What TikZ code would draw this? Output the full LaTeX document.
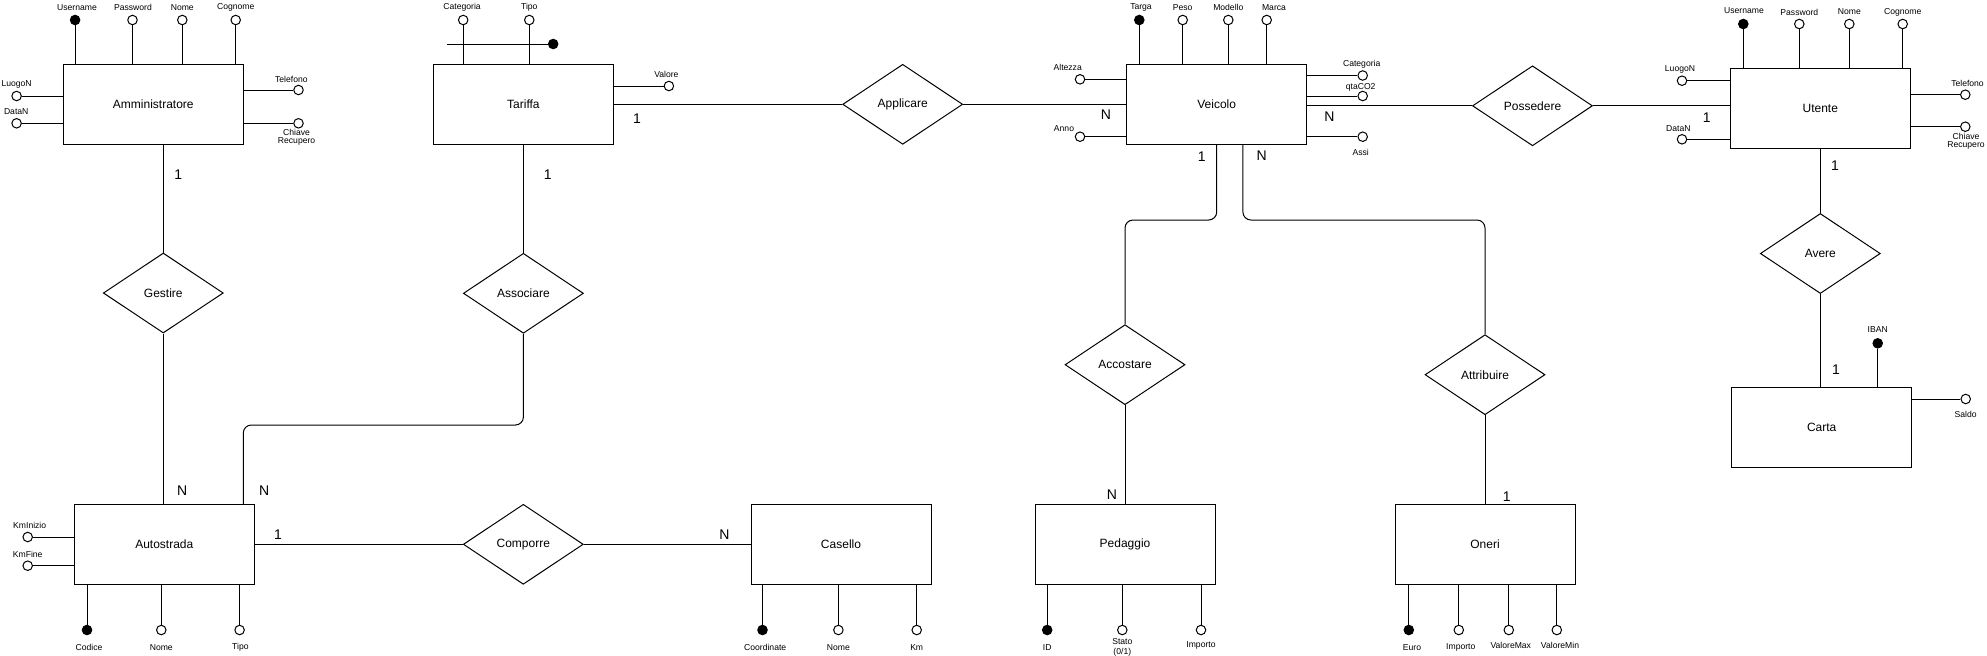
\documentclass[tikz,border=0pt]{standalone}
\usepackage{fontspec}
\setmainfont{Liberation Sans}
\usetikzlibrary{shapes.geometric,calc}
\begin{document}
\begin{tikzpicture}[x=0.5pt,y=-0.5pt,line width=0.5pt,
  ent/.style={draw,rectangle,minimum width=90pt,minimum height=40pt,inner sep=0pt,font=\fontsize{6}{7}\selectfont},
  rel/.style={draw,diamond,minimum width=60pt,minimum height=40pt,inner sep=0pt,font=\fontsize{6}{7}\selectfont},
  attr/.style={draw,circle,fill=white,minimum size=4.75pt,inner sep=0pt},
  keyattr/.style={attr,fill=black},
  lbl/.style={inner sep=0pt,align=center,font=\fontsize{4.3}{3}\selectfont},
  lbltwo/.style={inner sep=0pt,align=center,font=\fontsize{4.3}{5}\selectfont},
  card/.style={inner sep=0pt,font=\fontsize{7}{8}\selectfont},
  rcorner/.style={rounded corners=4pt}]
\useasboundingbox (0,0) rectangle (1987,655);

% ---------- entities ----------
\node[ent] (adm) at (153.3,104.3) {Amministratore};
\node[ent] (tar) at (523.4,104.3) {Tariffa};
\node[ent] (vei) at (1216.7,104.3) {Veicolo};
\node[ent] (ute) at (1820.3,108.3) {Utente};
\node[ent] (car) at (1821.7,427.7) {Carta};
\node[ent] (aut) at (164.3,544.3) {Autostrada};
\node[ent] (cas) at (841,544.3) {Casello};
\node[ent] (ped) at (1125,544.3) {Pedaggio};
\node[ent] (one) at (1485,544.3) {Oneri};

% ---------- relationships ----------
\node[rel] (ges) at (163.3,293) {Gestire};
\node[rel] (ass) at (523.4,293.3) {Associare};
\node[rel] (app) at (902.7,104.3) {Applicare};
\node[rel] (pos) at (1532.5,105.8) {Possedere};
\node[rel] (ave) at (1820.3,253.5) {Avere};
\node[rel] (com) at (523.3,544.3) {Comporre};
\node[rel] (acc) at (1125,364.7) {Accostare};
\node[rel] (att) at (1485,374.7) {Attribuire};

% ---------- connectors ----------
\draw (ges.north |- adm.south) -- (ges.north);
\draw (ges.south) -- (ges.south |- aut.north);
\draw (tar.south) -- (ass.north);
\coordinate (asb) at (243.3,425);
\draw[rcorner] (ass.south) |- (asb) -- (asb |- aut.north);
\draw (tar.east) -- (app.west);
\draw (app.east) -- (vei.west);
\draw (vei.east |- pos.west) -- (pos.west);
\draw (pos.east) -- (pos.east -| ute.west);
\draw (ute.south -| ave.north) -- (ave.north);
\draw (ave.south) -- (ave.south |- car.north);
\draw (aut.east) -- (com.west);
\draw (com.east) -- (cas.west);
\coordinate (vbend) at (0,220);
\draw[rcorner] (vei.south) |- (acc.north |- vbend) -- (acc.north);
\draw (acc.south) -- (acc.south |- ped.north);
\coordinate (vkn) at ($(vei.south)+(26.2,0)$);
\draw[rcorner] (vkn) |- (att.north |- vbend) -- (att.north);
\draw (att.south) -- (att.south |- one.north);

% ---------- cardinalities ----------
\node[card] (k1) at (178.3,174.3) {1};
\node[card] (k2) at (182.3,490.7) {N};
\node[card] (k3) at (547.7,174.3) {1};
\node[card] (k4) at (264.3,490.7) {N};
\node[card] (k5) at (637.1,118.3) {1};
\node[card] (k6) at (1106,114.3) {N};
\node[card] (k7) at (1329.3,116.7) {N};
\node[card] (k8) at (1706.7,117.3) {1};
\node[card] (k9) at (1835,165.7) {1};
\node[card] (k10) at (1836,370) {1};
\node[card] (k11) at (1201.7,156.7) {1};
\node[card] (k12) at (1261.7,155.7) {N};
\node[card] (k13) at (1112,495) {N};
\node[card] (k14) at (1506.8,496.7) {1};
\node[card] (k15) at (278,535) {1};
\node[card] (k16) at (724.5,534.3) {N};

% ---------- Amministratore attributes ----------
\node[keyattr] (u1) at (75.1,20) {};   \draw (u1) -- (u1 |- adm.north); \node[lbl] (lu1) at (77,7.3) {Username};
\node[attr] (u2) at (132.5,20) {};     \draw (u2) -- (u2 |- adm.north); \node[lbl] (lu2) at (133,7.7) {Password};
\node[attr] (u3) at (182.3,20) {};     \draw (u3) -- (u3 |- adm.north); \node[lbl] (lu3) at (182.3,7.7) {Nome};
\node[attr] (u4) at (235.7,20) {};     \draw (u4) -- (u4 |- adm.north); \node[lbl] (lu4) at (235.7,7.7) {Cognome};
\node[attr] (u5) at (16.6,96) {};      \draw (u5) -- (u5 -| adm.west);  \node[lbl] (lu5) at (16.6,84) {LuogoN};
\node[attr] (u6) at (16.6,123.3) {};   \draw (u6) -- (u6 -| adm.west);  \node[lbl] (lu6) at (16.2,111.7) {DataN};
\node[attr] (u7) at (298.5,90) {};     \draw (u7) -- (u7 -| adm.east);  \node[lbl] (lu7) at (291.4,79.3) {Telefono};
\node[attr] (u8) at (298.5,123.3) {};  \draw (u8) -- (u8 -| adm.east);  \node[lbl] (lu8) at (296.6,137.5) {Chiave\\Recupero};

% ---------- Tariffa attributes ----------
\node[attr] (t1) at (463.2,20) {};     \draw (t1) -- (t1 |- tar.north); \node[lbl] (lt1) at (462.1,7.3) {Categoria};
\node[attr] (t2) at (529.3,20) {};     \draw (t2) -- (t2 |- tar.north); \node[lbl] (lt2) at (529.3,7.3) {Tipo};
\coordinate (tk) at (446.8,44);
\node[keyattr] (tkey) at (553.2,44) {}; \draw (tk) -- (tkey);
\node[attr] (t3) at (668.9,86) {};     \draw (t3) -- (t3 -| tar.east);  \node[lbl] (lt3) at (666.4,74) {Valore};

% ---------- Veicolo attributes ----------
\node[keyattr] (v1) at (1139.3,20) {}; \draw (v1) -- (v1 |- vei.north); \node[lbl] (lv1) at (1141,7) {Targa};
\node[attr] (v2) at (1182.7,20) {};    \draw (v2) -- (v2 |- vei.north); \node[lbl] (lv2) at (1182.7,7.7) {Peso};
\node[attr] (v3) at (1228.3,20) {};    \draw (v3) -- (v3 |- vei.north); \node[lbl] (lv3) at (1228.3,7.7) {Modello};
\node[attr] (v4) at (1266.7,20) {};    \draw (v4) -- (v4 |- vei.north); \node[lbl] (lv4) at (1274,7.7) {Marca};
\node[attr] (v5) at (1080,79.3) {};    \draw (v5) -- (v5 -| vei.west);  \node[lbl] (lv5) at (1067.7,67.3) {Altezza};
\node[attr] (v6) at (1080,136.7) {};   \draw (v6) -- (v6 -| vei.west);  \node[lbl] (lv6) at (1064,129) {Anno};
\node[attr] (v7) at (1362.7,75.5) {};  \draw (v7) -- (v7 -| vei.east);  \node[lbl] (lv7) at (1361.7,64) {Categoria};
\node[attr] (v8) at (1362.7,96) {};    \draw (v8) -- (v8 -| vei.east);  \node[lbl] (lv8) at (1360.7,87.7) {qtaCO2};
\node[attr] (v9) at (1362.7,136.7) {}; \draw (v9) -- (v9 -| vei.east);  \node[lbl] (lv9) at (1360.7,152.7) {Assi};

% ---------- Utente attributes ----------
\node[keyattr] (w1) at (1743.3,24) {}; \draw (w1) -- (w1 |- ute.north); \node[lbl] (lw1) at (1744,11) {Username};
\node[attr] (w2) at (1799.3,24) {};    \draw (w2) -- (w2 |- ute.north); \node[lbl] (lw2) at (1799.3,12) {Password};
\node[attr] (w3) at (1849.3,24) {};    \draw (w3) -- (w3 |- ute.north); \node[lbl] (lw3) at (1849.3,12) {Nome};
\node[attr] (w4) at (1902.7,24) {};    \draw (w4) -- (w4 |- ute.north); \node[lbl] (lw4) at (1902.7,12) {Cognome};
\node[attr] (w5) at (1682,80.7) {};    \draw (w5) -- (w5 -| ute.west);  \node[lbl] (lw5) at (1680,69.3) {LuogoN};
\node[attr] (w6) at (1682,139.3) {};   \draw (w6) -- (w6 -| ute.west);  \node[lbl] (lw6) at (1678.3,128.3) {DataN};
\node[attr] (w7) at (1965.3,94.7) {};  \draw (w7) -- (w7 -| ute.east);  \node[lbl] (lw7) at (1967.5,83.3) {Telefono};
\node[attr] (w8) at (1965.3,126.7) {}; \draw (w8) -- (w8 -| ute.east);  \node[lbl] (lw8) at (1966,140.8) {Chiave\\Recupero};

% ---------- Carta attributes ----------
\node[keyattr] (q1) at (1877.7,343.3) {}; \draw (q1) -- (q1 |- car.north); \node[lbl] (lq1) at (1877.7,330) {IBAN};
\node[attr] (q2) at (1965.7,399) {};      \draw (q2) -- (q2 -| car.east);  \node[lbl] (lq2) at (1965.7,414) {Saldo};

% ---------- Autostrada attributes ----------
\node[attr] (s1) at (27.7,537) {};     \draw (s1) -- (s1 -| aut.west);  \node[lbl] (ls1) at (29.7,525.7) {KmInizio};
\node[attr] (s2) at (27.7,565.7) {};   \draw (s2) -- (s2 -| aut.west);  \node[lbl] (ls2) at (27.7,554) {KmFine};
\node[keyattr] (s3) at (87,630) {};    \draw (s3) -- (s3 |- aut.south); \node[lbl] (ls3) at (89,647.3) {Codice};
\node[attr] (s4) at (161.3,630) {};    \draw (s4) -- (s4 |- aut.south); \node[lbl] (ls4) at (161.3,647.3) {Nome};
\node[attr] (s5) at (239.6,630) {};    \draw (s5) -- (s5 |- aut.south); \node[lbl] (ls5) at (240.4,647.3) {Tipo};

% ---------- Casello attributes ----------
\node[keyattr] (c1) at (762.5,630) {}; \draw (c1) -- (c1 |- cas.south); \node[lbl] (lc1) at (765.2,647.3) {Coordinate};
\node[attr] (c2) at (838.4,630) {};    \draw (c2) -- (c2 |- cas.south); \node[lbl] (lc2) at (838.4,647.3) {Nome};
\node[attr] (c3) at (916.7,630) {};    \draw (c3) -- (c3 |- cas.south); \node[lbl] (lc3) at (916.7,647.3) {Km};

% ---------- Pedaggio attributes ----------
\node[keyattr] (p1) at (1047.2,630) {}; \draw (p1) -- (p1 |- ped.south); \node[lbl] (lp1) at (1047.2,647.3) {ID};
\node[attr] (p2) at (1122.3,630) {};    \draw (p2) -- (p2 |- ped.south); \node[lbltwo] (lp2) at (1122.3,647) {Stato\\(0/1)};
\node[attr] (p3) at (1201,630) {};      \draw (p3) -- (p3 |- ped.south); \node[lbl] (lp3) at (1201,645.7) {Importo};

% ---------- Oneri attributes ----------
\node[keyattr] (o1) at (1408.8,630) {}; \draw (o1) -- (o1 |- one.south); \node[lbl] (lo1) at (1412,647.7) {Euro};
\node[attr] (o2) at (1458.8,630) {};    \draw (o2) -- (o2 |- one.south); \node[lbl] (lo2) at (1460.8,647.3) {Importo};
\node[attr] (o3) at (1508.8,630) {};    \draw (o3) -- (o3 |- one.south); \node[lbl] (lo3) at (1510.8,645) {ValoreMax};
\node[attr] (o4) at (1556.8,630) {};    \draw (o4) -- (o4 |- one.south); \node[lbl] (lo4) at (1560,645) {ValoreMin};
\end{tikzpicture}
\end{document}
